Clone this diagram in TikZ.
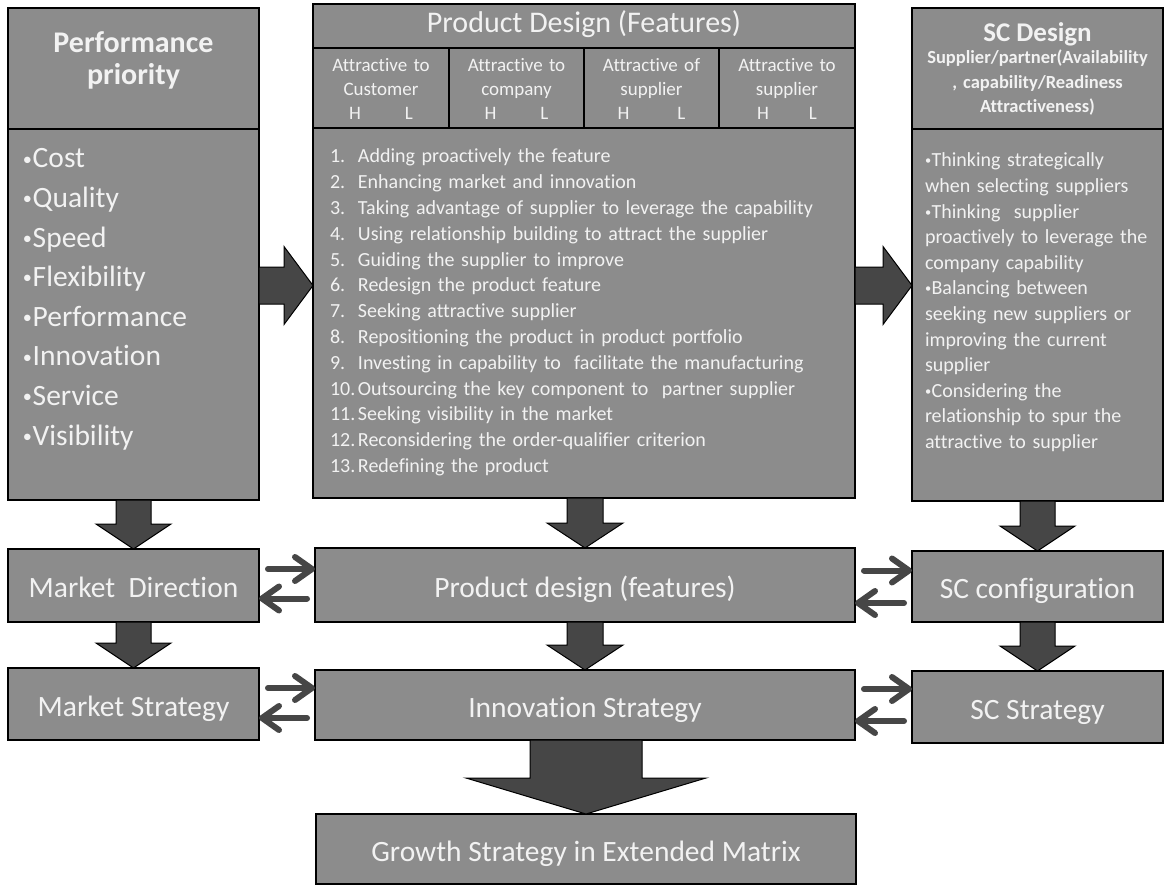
\documentclass[tikz,border=0pt]{standalone}
\usepackage{fontspec}
\usepackage{graphicx}
\setmainfont{Carlito}[Ligatures=NoCommon]
\usetikzlibrary{arrows.meta,calc}

\definecolor{boxgray}{RGB}{140,140,140}
\definecolor{boxtext}{RGB}{242,242,242}
\definecolor{arrowdark}{RGB}{70,70,70}

\tikzset{
  panel/.style={draw=black, line width=2.4pt, fill=boxgray, rectangle,
    inner sep=0pt, outer sep=0pt, anchor=north west},
  flowbox/.style={panel, text=boxtext, font=\fontsize{29.5}{34}\selectfont,
    text height=24pt, text depth=0pt},
  rule/.style={draw=black, line width=1.6pt},
  txt/.style={text=boxtext, inner sep=0pt, outer sep=0pt},
  blockarrow/.style={fill=arrowdark, draw=black, line width=1pt, line join=miter},
  pairarrow/.style={draw=arrowdark, line width=6pt, line cap=round,
    -{Straight Barb[length=17pt,width=24pt,round]}}
}

% vertical block arrow: from, to, shaft half width, head half width, head length
\newcommand\blockdown[5]{%
  \filldraw[blockarrow] let \p1=(#1.south), \p2=(#2.north) in
    (\x2-#3pt,\y1) -- (\x2-#3pt,\y2+#5pt) -- (\x2-#4pt,\y2+#5pt) -- (\x2,\y2)
    -- (\x2+#4pt,\y2+#5pt) -- (\x2+#3pt,\y2+#5pt) -- (\x2+#3pt,\y1) -- cycle;}
% horizontal block arrow: from, to, y level, shaft half width, head half width, head length
\newcommand\blockright[6]{%
  \filldraw[blockarrow] let \p1=(#1.east), \p2=(#2.west), \p3=(0,#3) in
    (\x1,\y3+#4pt) -- (\x2-#6pt,\y3+#4pt) -- (\x2-#6pt,\y3+#5pt) -- (\x2,\y3)
    -- (\x2-#6pt,\y3-#5pt) -- (\x2-#6pt,\y3-#4pt) -- (\x1,\y3-#4pt) -- cycle;}

% small raised bullet used in the lists
\newcommand\bul{\makebox[0.33em][l]{\raisebox{0.1em}{\scalebox{0.62}{\textbullet}}}}

\begin{document}
\begin{tikzpicture}[x=1pt,y=-1pt]
\useasboundingbox (0,0) rectangle (1169,893);
\fill[white] (0,0) rectangle (1169,893);

% ---------- upper panels ----------
\node[panel, minimum width=251pt, minimum height=492pt] (perf) at (8,8) {};
\node[panel, minimum width=542pt, minimum height=494pt] (pdes) at (313,4) {};
\node[panel, minimum width=251pt, minimum height=493pt] (scd) at (912,8) {};

\draw[rule] (8,129) -- (259,129);
\draw[rule] (313,48) -- (855,48);
\draw[rule] (313,128) -- (855,128);
\foreach \x in {449,584,719} \draw[rule] (\x,48) -- (\x,128);
\draw[rule] (912,129) -- (1163,129);

% performance priority
\node[txt, anchor=base, text width=240pt, align=center,
  font=\bfseries\fontsize{30}{32}\selectfont] (perftitle) at (133.5,53)
  {Performance\\priority};
\node[txt, anchor=base west, text width=230pt, align=left,
  font=\fontsize{29.5}{39.6}\selectfont] (perflist) at (23,168)
  {\bul Cost\\\bul Quality\\\bul Speed\\\bul Flexibility\\\bul Performance\\
   \bul Innovation\\\bul Service\\\bul Visibility};

% product design panel
\node[txt, anchor=base, font=\fontsize{30}{32}\selectfont] (pdtitle) at (584,33)
  {Product Design (Features)};
\tikzset{colhead/.style={txt, anchor=base, text width=132pt, align=center,
  font=\fontsize{19}{24}\selectfont}}
\node[colhead] (colA) at (381,72) {Attractive to\\Customer\\H\hspace{44pt}L};
\node[colhead] (colB) at (516.5,72) {Attractive to\\company\\H\hspace{44pt}L};
\node[colhead] (colC) at (651.5,72) {Attractive of\\supplier\\H\hspace{48pt}L};
\node[colhead] (colD) at (787,72) {Attractive to\\supplier\\H\hspace{40pt}L};
\node[txt, anchor=base west, text width=510pt, align=left,
  font=\fontsize{20}{25.8}\selectfont] (featlist) at (330,163)
  {\makebox[28pt][l]{1.}Adding proactively the feature\\
   \makebox[28pt][l]{2.}Enhancing market and innovation\\
   \makebox[28pt][l]{3.}Taking advantage of supplier to leverage the capability\\
   \makebox[28pt][l]{4.}Using relationship building to attract the supplier\\
   \makebox[28pt][l]{5.}Guiding the supplier to improve\\
   \makebox[28pt][l]{6.}Redesign the product feature\\
   \makebox[28pt][l]{7.}Seeking attractive supplier\\
   \makebox[28pt][l]{8.}Repositioning the product in product portfolio\\
   \makebox[28pt][l]{9.}Investing in capability to~ facilitate the manufacturing\\
   \makebox[28pt][l]{10.}Outsourcing the key component to~ partner supplier\\
   \makebox[28pt][l]{11.}Seeking visibility in the market\\
   \makebox[28pt][l]{12.}Reconsidering the order-qualifier criterion\\
   \makebox[28pt][l]{13.}Redefining the product};

% supply chain design panel
\node[txt, anchor=base, font=\bfseries\fontsize{27}{30}\selectfont] (sctitle)
  at (1037.5,42) {SC Design};
\node[txt, anchor=base, text width=248pt, align=center,
  font=\bfseries\fontsize{18.5}{24.5}\selectfont] (scsub) at (1037.5,64)
  {Supplier/partner(Availability\\, capability/Readiness\\Attractiveness)};
\node[txt, anchor=base west, text width=236pt, align=left,
  font=\fontsize{20}{25.6}\selectfont] (sclist) at (925,167)
  {\bul Thinking strategically\\when selecting suppliers\\
   \bul Thinking~ supplier\\proactively to leverage the\\company capability\\
   \bul Balancing between\\seeking new suppliers or\\improving the current\\supplier\\
   \bul Considering the\\relationship to spur the\\attractive to supplier};

% ---------- strategy rows ----------
\node[flowbox, minimum width=251pt, minimum height=73pt] (mdir) at (8,549) {Market~ Direction};
\node[flowbox, minimum width=540pt, minimum height=74pt] (pdf) at (315,548) {Product design (features)};
\node[flowbox, minimum width=251pt, minimum height=71pt] (scc) at (912,551) {SC configuration};
\node[flowbox, minimum width=251pt, minimum height=72pt] (mstr) at (8,668) {Market Strategy};
\node[flowbox, minimum width=540pt, minimum height=70pt] (inno) at (315,670) {Innovation Strategy};
\node[flowbox, minimum width=251pt, minimum height=72pt] (scs) at (912,671) {SC Strategy};
\node[flowbox, minimum width=540pt, minimum height=70pt] (grow) at (316,814) {Growth Strategy in Extended Matrix};

% ---------- block arrows ----------
\blockright{perf}{pdes}{285.5}{18.5}{39}{29}
\blockright{pdes}{scd}{285.5}{18.5}{39}{29}
\blockdown{perf}{mdir}{17.5}{37.5}{25}
\blockdown{mdir}{mstr}{17.5}{37.5}{25}
\blockdown{pdes}{pdf}{18}{38}{25}
\blockdown{pdf}{inno}{18}{38}{25}
\blockdown{scd}{scc}{17.5}{37.5}{25}
\blockdown{scc}{scs}{17.5}{37.5}{25}
\blockdown{inno}{grow}{56}{120}{36}

% ---------- two-way links between columns ----------
\draw[pairarrow, shorten <=9pt] ([yshift=16.5pt]mdir.east) -- ([yshift=16.5pt]mdir.east -| pdf.west);
\draw[pairarrow, shorten <=8pt] ([yshift=-13.5pt]pdf.west) -- ([yshift=-13.5pt]pdf.west -| mdir.east);
\draw[pairarrow, shorten <=9pt] ([yshift=14.5pt]pdf.east) -- ([yshift=14.5pt]pdf.east -| scc.west);
\draw[pairarrow, shorten <=8pt] ([yshift=-16.5pt]scc.west) -- ([yshift=-16.5pt]scc.west -| pdf.east);
\draw[pairarrow, shorten <=9pt] ([yshift=16pt]mstr.east) -- ([yshift=16pt]mstr.east -| inno.west);
\draw[pairarrow, shorten <=8pt] ([yshift=-13pt]inno.west) -- ([yshift=-13pt]inno.west -| mstr.east);
\draw[pairarrow, shorten <=9pt] ([yshift=16pt]inno.east) -- ([yshift=16pt]inno.east -| scs.west);
\draw[pairarrow, shorten <=8pt] ([yshift=-14pt]scs.west) -- ([yshift=-14pt]scs.west -| inno.east);
\end{tikzpicture}
\end{document}
